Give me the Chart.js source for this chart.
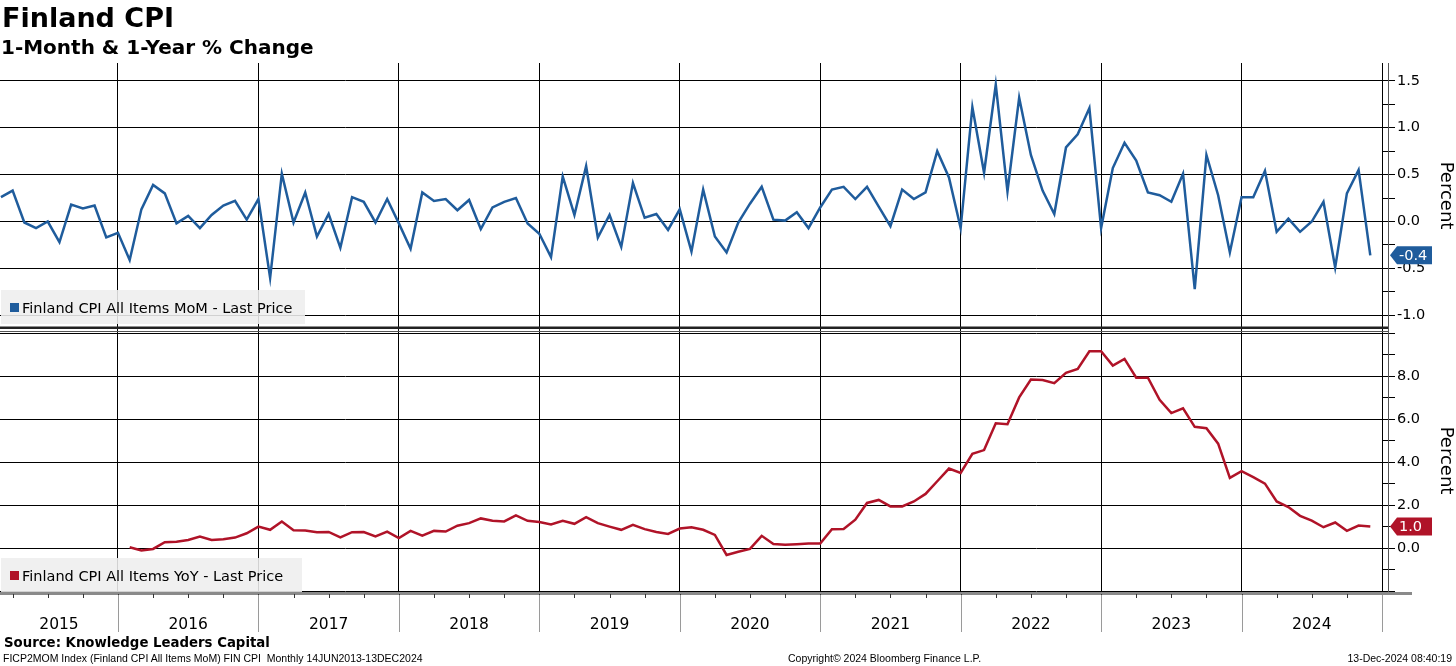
<!DOCTYPE html>
<html>
<head>
<meta charset="utf-8">
<script src="https://cdn.jsdelivr.net/npm/chart.js@4.4.1/dist/chart.umd.min.js"></script>
<style>
  body { margin: 0; background: #fff; }
  #wrap { position: relative; width: 1456px; height: 666px; font-family: "DejaVu Sans", sans-serif; color: #000; }
  #wrap canvas { position: absolute; left: 0; top: 0; }
  .t { position: absolute; white-space: nowrap; line-height: 1; }
  .foot { font-size: 10.5px; font-family: "Liberation Sans", sans-serif; top: 653px; }
</style>
</head>
<body>
<div id="wrap">
  <canvas id="cpi" width="1456" height="666"></canvas>
  <div class="t" style="left:2px;top:4px;font-size:27px;font-weight:bold">Finland CPI</div>
  <div class="t" style="left:1px;top:37px;font-size:20px;font-weight:bold">1-Month &amp; 1-Year % Change</div>
  <div class="t" style="left:4px;top:636px;font-size:13.3px;font-weight:bold">Source: Knowledge Leaders Capital</div>
  <div class="t foot" style="left:3px">FICP2MOM Index (Finland CPI All Items MoM) FIN CPI&nbsp; Monthly 14JUN2013-13DEC2024</div>
  <div class="t foot" style="left:788px">Copyright© 2024 Bloomberg Finance L.P.</div>
  <div class="t foot" style="right:4px">13-Dec-2024 08:40:19</div>
</div>
<script>
// years shown under the x axis
const yearLabels = ['2015', '2016', '2017', '2018', '2019', '2020', '2021', '2022', '2023', '2024'];

// MoM %, Feb 2015 .. Nov 2024
const momValues = [
  0.26, 0.33, -0.01, -0.07, 0.00, -0.22, 0.18, 0.14, 0.17, -0.17, -0.12,
  -0.41, 0.13, 0.39, 0.30, -0.02, 0.06, -0.07, 0.07, 0.17, 0.22, 0.02, 0.24,
  -0.60, 0.51, -0.01, 0.31, -0.16, 0.08, -0.28, 0.26, 0.21, -0.01, 0.24, -0.02,
  -0.29, 0.31, 0.22, 0.24, 0.12, 0.23, -0.08, 0.15, 0.21, 0.25, -0.02, -0.13,
  -0.38, 0.48, 0.07, 0.59, -0.17, 0.07, -0.27, 0.41, 0.04, 0.08, -0.09, 0.13,
  -0.32, 0.34, -0.16, -0.33, -0.01, 0.19, 0.37, 0.02, 0.01, 0.10, -0.07, 0.15,
  0.34, 0.37, 0.24, 0.37, 0.16, -0.05, 0.34, 0.24, 0.31, 0.75, 0.47, -0.07,
  1.22, 0.52, 1.46, 0.32, 1.32, 0.71, 0.33, 0.08, 0.79, 0.93, 1.21, -0.07,
  0.57, 0.84, 0.65, 0.31, 0.28, 0.21, 0.51, -0.72, 0.71, 0.28, -0.33, 0.26,
  0.26, 0.54, -0.11, 0.03, -0.11, 0.00, 0.21, -0.49, 0.30, 0.55, -0.36
];

// YoY %, Jan 2016 .. Nov 2024
const yoyValues = [
  0.05, -0.10, -0.03, 0.28, 0.31, 0.39, 0.55, 0.39, 0.42, 0.50, 0.70, 1.01,
  0.86, 1.25, 0.84, 0.83, 0.75, 0.76, 0.51, 0.75, 0.76, 0.55, 0.78, 0.48,
  0.81, 0.59, 0.81, 0.78, 1.05, 1.17, 1.39, 1.28, 1.25, 1.53, 1.28, 1.22,
  1.11, 1.28, 1.14, 1.45, 1.17, 1.01, 0.86, 1.09, 0.89, 0.76, 0.67, 0.92,
  0.98, 0.86, 0.62, -0.31, -0.16, -0.03, 0.58, 0.20, 0.17, 0.19, 0.22, 0.22,
  0.89, 0.90, 1.33, 2.11, 2.25, 1.95, 1.95, 2.18, 2.53, 3.12, 3.71, 3.51,
  4.40, 4.57, 5.82, 5.77, 7.02, 7.85, 7.83, 7.68, 8.16, 8.35, 9.17, 9.17,
  8.50, 8.81, 7.94, 7.94, 6.91, 6.29, 6.51, 5.65, 5.59, 4.87, 3.28, 3.59,
  3.31, 3.01, 2.18, 1.92, 1.51, 1.29, 0.98, 1.20, 0.81, 1.06, 1.01
];

// tick values of the two right axes
const momTicks = [-1.0, -0.75, -0.5, -0.25, 0.0, 0.25, 0.5, 0.75, 1.0, 1.25, 1.5];
const yoyTicks = [-2, -1, 0, 1, 2, 3, 4, 5, 6, 7, 8, 9, 10];
const yoyLabelled = [0, 2, 4, 6, 8];

// x is months counted from the start of 2015, points sit at month end
const momStart = 2;   // Feb 2015
const yoyStart = 13;  // Jan 2016

const BLUE = '#1f5c9c';
const RED = '#b01328';
const AXIS_FONT = { family: 'DejaVu Sans', size: 14.5 };

const extras = {
  id: 'extras',
  afterDraw(chart) {
    const { ctx, chartArea: a, scales } = chart;
    const x = scales.x;
    ctx.save();

    // divider between panels
    const mid = scales.yTop.bottom;
    ctx.fillStyle = '#222';
    ctx.fillRect(0, mid - 1.5, a.right + 6, 2.5);
    ctx.fillStyle = '#555';
    ctx.fillRect(0, mid + 3, a.right + 6, 1);

    // second right border line
    ctx.fillStyle = '#555';
    ctx.fillRect(a.right + 6, a.top, 1, a.bottom - a.top);

    // x axis line, quarter ticks, year separators and labels
    ctx.fillStyle = '#8a8a8a';
    ctx.fillRect(0, a.bottom - 1, a.right + 30, 3);
    ctx.fillStyle = '#333';
    for (let m = 3; m < 120; m += 3) {
      const px = x.getPixelForValue(m);
      if (px < a.left) continue;
      ctx.fillRect(Math.round(px), a.bottom + 1, 1, 4);
    }
    ctx.fillStyle = '#9a9a9a';
    for (let m = 12; m <= 120; m += 12) {
      ctx.fillRect(Math.round(x.getPixelForValue(m)), a.bottom + 2, 1, 37);
    }
    ctx.fillStyle = '#000';
    ctx.font = '15.5px "DejaVu Sans"';
    ctx.textAlign = 'center';
    ctx.textBaseline = 'alphabetic';
    yearLabels.forEach((yr, i) => {
      const l = Math.max(a.left, x.getPixelForValue(i * 12));
      const r = Math.min(a.right, x.getPixelForValue(i * 12 + 12));
      ctx.fillText(yr, (l + r) / 2, 629);
    });

    // legend boxes
    const legend = (label, color, bottom, w) => {
      ctx.fillStyle = 'rgba(238,238,238,0.88)';
      ctx.fillRect(1, bottom - 34, w, 34);
      ctx.fillStyle = color;
      ctx.fillRect(10, bottom - 21, 9, 9);
      ctx.fillStyle = '#000';
      ctx.font = '14.5px "DejaVu Sans"';
      ctx.textAlign = 'left';
      ctx.fillText(label, 22, bottom - 11);
    };
    legend('Finland CPI All Items MoM - Last Price', BLUE, mid - 4, 304);
    legend('Finland CPI All Items YoY - Last Price', RED, a.bottom - 1, 301);

    // last value badges
    const badge = (scale, value, color) => {
      const cy = scale.getPixelForValue(value);
      const bx = a.right + 8;
      ctx.fillStyle = color;
      ctx.beginPath();
      ctx.moveTo(bx, cy);
      ctx.lineTo(bx + 7, cy - 9);
      ctx.lineTo(bx + 42, cy - 9);
      ctx.lineTo(bx + 42, cy + 9);
      ctx.lineTo(bx + 7, cy + 9);
      ctx.closePath();
      ctx.fill();
      ctx.fillStyle = '#fff';
      ctx.font = '14.5px "DejaVu Sans"';
      ctx.textAlign = 'left';
      ctx.textBaseline = 'middle';
      ctx.fillText(value.toFixed(1), bx + 9, cy + 1);
      ctx.textBaseline = 'alphabetic';
    };
    badge(scales.yTop, momValues[momValues.length - 1], BLUE);
    badge(scales.yBot, yoyValues[yoyValues.length - 1], RED);

    ctx.restore();
  }
};

const fixWidth = s => { s.width = 74; };

new Chart(document.getElementById('cpi').getContext('2d'), {
  type: 'line',
  data: {
    datasets: [{
      label: 'Finland CPI All Items MoM - Last Price',
      data: momValues.map((v, i) => ({ x: momStart + i, y: v })),
      yAxisID: 'yTop',
      borderColor: BLUE,
      borderWidth: 2.5,
      pointRadius: 0,
      tension: 0,
    }, {
      label: 'Finland CPI All Items YoY - Last Price',
      data: yoyValues.map((v, i) => ({ x: yoyStart + i, y: v })),
      yAxisID: 'yBot',
      borderColor: RED,
      borderWidth: 2.5,
      pointRadius: 0,
      tension: 0,
    }]
  },
  options: {
    responsive: false,
    animation: false,
    devicePixelRatio: 1,
    layout: { padding: { top: 63, bottom: 73, left: 0, right: 0 } },
    plugins: {
      legend: { display: false },
      tooltip: { enabled: false },
    },
    scales: {
      x: {
        type: 'linear',
        min: 1.92,
        max: 120,
        afterBuildTicks: s => { s.ticks = yearLabels.map((y, i) => ({ value: i * 12 + 12 })); },
        grid: { color: '#000', lineWidth: 1, drawTicks: false },
        border: { display: false },
        ticks: { display: false },
      },
      yTop: {
        type: 'linear',
        position: 'right',
        stack: 'panels',
        stackWeight: 1,
        min: -1.135,
        max: 1.69,
        afterBuildTicks: s => { s.ticks = momTicks.map(v => ({ value: v })); },
        afterFit: fixWidth,
        grid: {
          color: c => (Math.abs(c.tick.value * 2 % 1) < 1e-6 ? '#000' : 'rgba(0,0,0,0)'),
          tickColor: '#000',
          tickLength: 13,
        },
        border: { display: false },
        ticks: {
          autoSkip: false,
          color: '#000',
          font: AXIS_FONT,
          padding: 2,
          callback: v => (Math.abs(v * 2 % 1) < 1e-6 ? v.toFixed(1) : ''),
        },
        title: { display: true, text: 'Percent', color: '#000', font: { family: 'DejaVu Sans', size: 18 }, padding: 0 },
      },
      yBot: {
        type: 'linear',
        position: 'right',
        stack: 'panels',
        stackWeight: 1,
        min: -2.08,
        max: 10.25,
        afterBuildTicks: s => { s.ticks = yoyTicks.map(v => ({ value: v })); },
        afterFit: fixWidth,
        grid: {
          color: c => (c.tick.value % 2 === 0 ? '#000' : 'rgba(0,0,0,0)'),
          tickColor: '#000',
          tickLength: 13,
        },
        border: { display: false },
        ticks: {
          autoSkip: false,
          color: '#000',
          font: AXIS_FONT,
          padding: 2,
          callback: v => (yoyLabelled.includes(v) ? v.toFixed(1) : ''),
        },
        title: { display: true, text: 'Percent', color: '#000', font: { family: 'DejaVu Sans', size: 18 }, padding: 0 },
      }
    }
  },
  plugins: [extras]
});
</script>
</body>
</html>
